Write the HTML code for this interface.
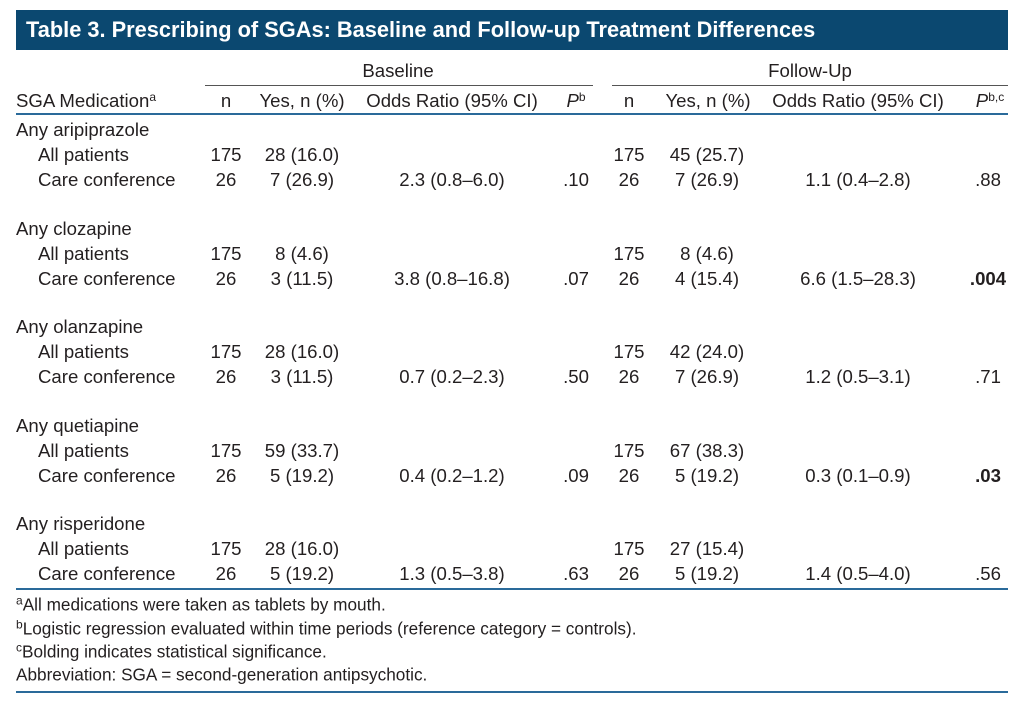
<!DOCTYPE html>
<html><head><meta charset="utf-8"><style>
body{margin:0;width:1024px;height:708px;background:#fff;position:relative;font-family:"Liberation Sans",sans-serif;color:#231f20;overflow:hidden}
.t{position:absolute;font-size:18.6px;white-space:nowrap;line-height:20px;transform:translateY(-50%)}
.c{transform:translate(-50%,-50%)}
.bar{position:absolute;left:16px;top:10px;width:992px;height:40px;background:#0b4870}
.title{position:absolute;left:26px;top:30px;transform:translateY(-50%);color:#fff;font-weight:bold;font-size:21.8px;white-space:nowrap}
.l{position:absolute;height:2px;background:#2a6a9a}
.g{position:absolute;height:1px;background:#555}
sup{font-size:12px;vertical-align:6px;line-height:0}
.f{position:absolute;left:16px;font-size:17.2px;white-space:nowrap;transform:translateY(-50%)}
</style></head><body>
<div class="bar"></div>
<div class="title">Table 3. Prescribing of SGAs: Baseline and Follow-up Treatment Differences</div>
<div class="t c" style="left:398px;top:71px">Baseline</div>
<div class="t c" style="left:810px;top:71px">Follow-Up</div>
<div class="g" style="left:205px;top:85px;width:388px"></div>
<div class="g" style="left:612px;top:85px;width:396px"></div>
<div class="t" style="left:16px;top:101px">SGA Medication<sup>a</sup></div>
<div class="t c" style="left:226px;top:101px">n</div>
<div class="t c" style="left:302px;top:101px">Yes, n (%)</div>
<div class="t c" style="left:452px;top:101px">Odds Ratio (95% CI)</div>
<div class="t c" style="left:576px;top:101px"><i>P</i><sup>b</sup></div>
<div class="t c" style="left:629px;top:101px">n</div>
<div class="t c" style="left:708px;top:101px">Yes, n (%)</div>
<div class="t c" style="left:858px;top:101px">Odds Ratio (95% CI)</div>
<div class="t c" style="left:990px;top:101px"><i>P</i><sup>b,c</sup></div>
<div class="l" style="left:16px;top:113px;width:992px"></div>

<div class="t" style="left:16px;top:130px">Any aripiprazole</div>
<div class="t" style="left:38px;top:155px">All patients</div>
<div class="t c" style="left:226px;top:155px">175</div><div class="t c" style="left:302px;top:155px">28 (16.0)</div>
<div class="t c" style="left:629px;top:155px">175</div><div class="t c" style="left:707px;top:155px">45 (25.7)</div>
<div class="t" style="left:38px;top:180px">Care conference</div>
<div class="t c" style="left:226px;top:180px">26</div><div class="t c" style="left:302px;top:180px">7 (26.9)</div>
<div class="t c" style="left:452px;top:180px">2.3 (0.8–6.0)</div><div class="t c" style="left:576px;top:180px">.10</div>
<div class="t c" style="left:629px;top:180px">26</div><div class="t c" style="left:707px;top:180px">7 (26.9)</div>
<div class="t c" style="left:858px;top:180px">1.1 (0.4–2.8)</div><div class="t c" style="left:988px;top:180px">.88</div>

<div class="t" style="left:16px;top:229px">Any clozapine</div>
<div class="t" style="left:38px;top:254px">All patients</div>
<div class="t c" style="left:226px;top:254px">175</div><div class="t c" style="left:302px;top:254px">8 (4.6)</div>
<div class="t c" style="left:629px;top:254px">175</div><div class="t c" style="left:707px;top:254px">8 (4.6)</div>
<div class="t" style="left:38px;top:279px">Care conference</div>
<div class="t c" style="left:226px;top:279px">26</div><div class="t c" style="left:302px;top:279px">3 (11.5)</div>
<div class="t c" style="left:452px;top:279px">3.8 (0.8–16.8)</div><div class="t c" style="left:576px;top:279px">.07</div>
<div class="t c" style="left:629px;top:279px">26</div><div class="t c" style="left:707px;top:279px">4 (15.4)</div>
<div class="t c" style="left:858px;top:279px">6.6 (1.5–28.3)</div><div class="t c" style="left:988px;top:279px;font-weight:bold">.004</div>

<div class="t" style="left:16px;top:327px">Any olanzapine</div>
<div class="t" style="left:38px;top:352px">All patients</div>
<div class="t c" style="left:226px;top:352px">175</div><div class="t c" style="left:302px;top:352px">28 (16.0)</div>
<div class="t c" style="left:629px;top:352px">175</div><div class="t c" style="left:707px;top:352px">42 (24.0)</div>
<div class="t" style="left:38px;top:377px">Care conference</div>
<div class="t c" style="left:226px;top:377px">26</div><div class="t c" style="left:302px;top:377px">3 (11.5)</div>
<div class="t c" style="left:452px;top:377px">0.7 (0.2–2.3)</div><div class="t c" style="left:576px;top:377px">.50</div>
<div class="t c" style="left:629px;top:377px">26</div><div class="t c" style="left:707px;top:377px">7 (26.9)</div>
<div class="t c" style="left:858px;top:377px">1.2 (0.5–3.1)</div><div class="t c" style="left:988px;top:377px">.71</div>

<div class="t" style="left:16px;top:426px">Any quetiapine</div>
<div class="t" style="left:38px;top:451px">All patients</div>
<div class="t c" style="left:226px;top:451px">175</div><div class="t c" style="left:302px;top:451px">59 (33.7)</div>
<div class="t c" style="left:629px;top:451px">175</div><div class="t c" style="left:707px;top:451px">67 (38.3)</div>
<div class="t" style="left:38px;top:476px">Care conference</div>
<div class="t c" style="left:226px;top:476px">26</div><div class="t c" style="left:302px;top:476px">5 (19.2)</div>
<div class="t c" style="left:452px;top:476px">0.4 (0.2–1.2)</div><div class="t c" style="left:576px;top:476px">.09</div>
<div class="t c" style="left:629px;top:476px">26</div><div class="t c" style="left:707px;top:476px">5 (19.2)</div>
<div class="t c" style="left:858px;top:476px">0.3 (0.1–0.9)</div><div class="t c" style="left:988px;top:476px;font-weight:bold">.03</div>

<div class="t" style="left:16px;top:524px">Any risperidone</div>
<div class="t" style="left:38px;top:549px">All patients</div>
<div class="t c" style="left:226px;top:549px">175</div><div class="t c" style="left:302px;top:549px">28 (16.0)</div>
<div class="t c" style="left:629px;top:549px">175</div><div class="t c" style="left:707px;top:549px">27 (15.4)</div>
<div class="t" style="left:38px;top:574px">Care conference</div>
<div class="t c" style="left:226px;top:574px">26</div><div class="t c" style="left:302px;top:574px">5 (19.2)</div>
<div class="t c" style="left:452px;top:574px">1.3 (0.5–3.8)</div><div class="t c" style="left:576px;top:574px">.63</div>
<div class="t c" style="left:629px;top:574px">26</div><div class="t c" style="left:707px;top:574px">5 (19.2)</div>
<div class="t c" style="left:858px;top:574px">1.4 (0.5–4.0)</div><div class="t c" style="left:988px;top:574px">.56</div>

<div class="l" style="left:16px;top:588px;width:992px"></div>
<div class="f" style="top:605px"><sup>a</sup>All medications were taken as tablets by mouth.</div>
<div class="f" style="top:629px"><sup>b</sup>Logistic regression evaluated within time periods (reference category = controls).</div>
<div class="f" style="top:652px"><sup>c</sup>Bolding indicates statistical significance.</div>
<div class="f" style="top:675px">Abbreviation: SGA = second-generation antipsychotic.</div>
<div class="l" style="left:16px;top:691px;width:992px"></div>
</body></html>
